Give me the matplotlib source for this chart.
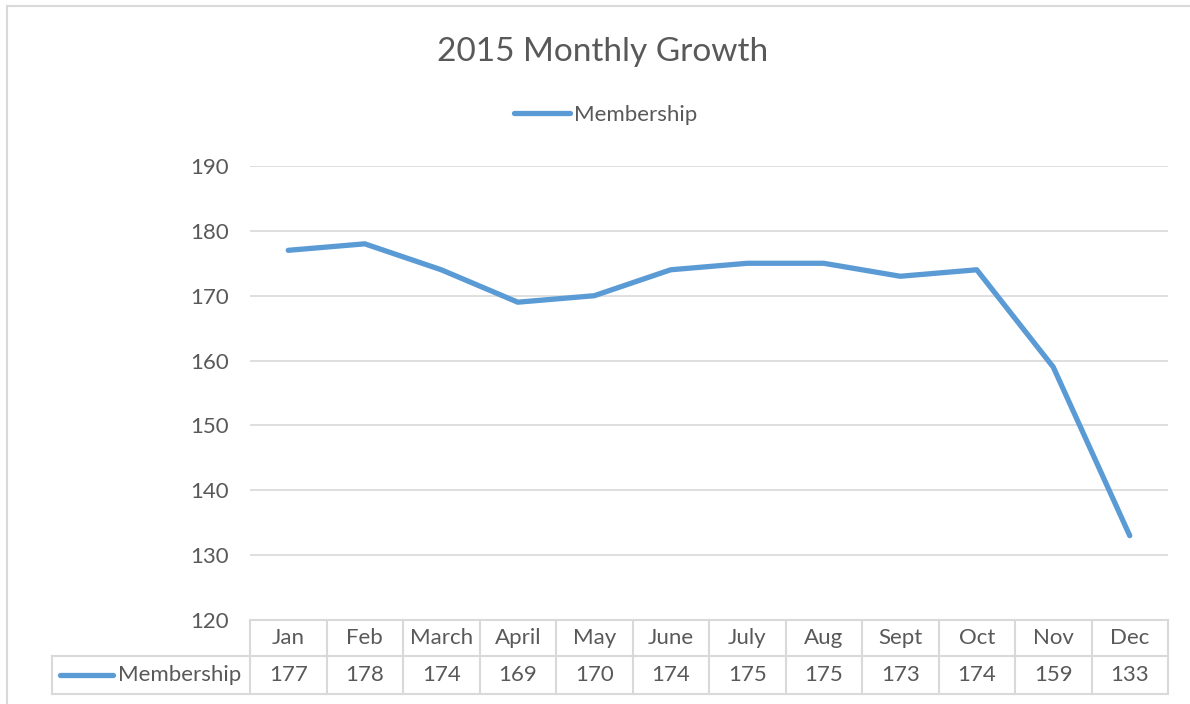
import numpy as np
import matplotlib
matplotlib.use('Agg')
import matplotlib.pyplot as plt
from matplotlib.lines import Line2D
import matplotlib.transforms as mtransforms

plt.rcParams['font.family'] = ['Lato', 'DejaVu Sans']

# chart data
months = ['Jan', 'Feb', 'March', 'April', 'May', 'June', 'July', 'Aug', 'Sept', 'Oct', 'Nov', 'Dec']
membership = [177, 178, 174, 169, 170, 174, 175, 175, 173, 174, 159, 133]
series_name = 'Membership'
title = '2015 Monthly Growth'
yticks = [120, 130, 140, 150, 160, 170, 180, 190]

line_color = '#5B9BD5'
text_color = '#595959'
grid_color = '#D9D9D9'
fs = 16

fig = plt.figure(figsize=(11.9, 7.04), dpi=100)
ax = fig.add_axes([250 / 1190, 1 - 620 / 704, 918 / 1190, 454 / 704])

x = np.arange(len(months))
ax.plot(x, membership, color=line_color, linewidth=3.8, solid_joinstyle='round',
        solid_capstyle='round', zorder=3)
ax.set_xlim(-0.5, len(months) - 0.5)
ax.set_ylim(min(yticks), max(yticks))
ax.set_yticks(yticks)
ax.set_xticks([])
ax.tick_params(axis='y', length=0, pad=15, labelsize=fs, labelcolor=text_color)
ax.grid(axis='y', color=grid_color, linewidth=1.2)
for s in ax.spines.values():
    s.set_visible(False)

# title and legend
fig.text(603 / 1190, 1 - 52 / 704, title, ha='center', va='center', fontsize=24, color=text_color)
fig.legend(handles=[Line2D([], [], color=line_color, linewidth=3.8, solid_capstyle='round')],
           labels=[series_name], loc='center', bbox_to_anchor=(606 / 1190, 1 - 115 / 704),
           frameon=False, fontsize=fs, labelcolor=text_color, handlelength=2.5,
           handletextpad=0.2)

# data table below the plot
tr = mtransforms.blended_transform_factory(ax.transData, ax.transAxes)
ppx = 1 / 454  # one pixel in axes height units
row1 = -36 * ppx
row2 = -74 * ppx
key_left = -0.5 - 198 / 76.5
kw = dict(transform=tr, color=grid_color, linewidth=1.5, clip_on=False, zorder=1)
ax.add_line(Line2D([-0.5, len(months) - 0.5], [0, 0], **kw))
ax.add_line(Line2D([key_left, len(months) - 0.5], [row1, row1], **kw))
ax.add_line(Line2D([key_left, len(months) - 0.5], [row2, row2], **kw))
ax.add_line(Line2D([key_left, key_left], [row1, row2], **kw))
for b in np.arange(len(months) + 1) - 0.5:
    ax.add_line(Line2D([b, b], [0, row2], **kw))
for i, (m, v) in enumerate(zip(months, membership)):
    ax.text(i, row1 / 2, m, transform=tr, ha='center', va='center', fontsize=fs, color=text_color)
    ax.text(i, (row1 + row2) / 2, str(v), transform=tr, ha='center', va='center',
            fontsize=fs, color=text_color)
key_x0 = key_left + 8 / 76.5
ax.add_line(Line2D([key_x0, key_x0 + 53 / 76.5], [(row1 + row2) / 2] * 2, transform=tr,
                   color=line_color, linewidth=3.8, solid_capstyle='round', clip_on=False))
ax.text(key_x0 + 58 / 76.5, (row1 + row2) / 2, series_name, transform=tr, ha='left',
        va='center', fontsize=fs, color=text_color)

# chart frame
fig.add_artist(Line2D([7 / 1190, 7 / 1190], [0, 1 - 6 / 704], transform=fig.transFigure,
                      color=grid_color, linewidth=1.5))
fig.add_artist(Line2D([7 / 1190, 1], [1 - 6 / 704, 1 - 6 / 704], transform=fig.transFigure,
                      color=grid_color, linewidth=1.5))

fig.savefig('out.png', dpi=100)
